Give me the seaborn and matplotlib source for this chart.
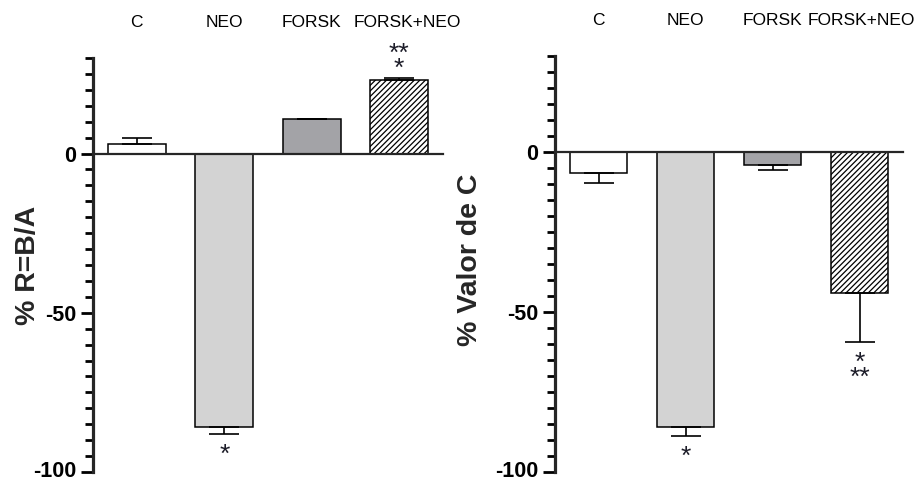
import matplotlib
matplotlib.use("Agg")
import matplotlib.pyplot as plt
import matplotlib.transforms as mtransforms
import seaborn as sns
import numpy as np

# ---- data ----
categories = ["C", "NEO", "FORSK", "FORSK+NEO"]
left_values = [3.0, -86.0, 11.0, 23.0]
left_sem = [2.0, 2.0, 0.0, 0.7]
right_values = [-6.5, -86.0, -4.0, -44.0]
right_sem = [3.2, 2.8, 1.6, 15.5]
left_ylabel = "% R=B/A"
right_ylabel = "% Valor de C"
left_stars = [("NEO", -94.5, "*"), ("FORSK+NEO", 29.0, "**\n*")]
right_stars = [("NEO", -95.2, "*"), ("FORSK+NEO", -68.2, "*\n**")]
bar_colors = ["#ffffff", "#d3d3d3", "#a3a3a7", "#ffffff"]
hatches = [None, None, None, "//////"]

sns.set_style("ticks")
plt.rcParams["font.family"] = ["Liberation Sans", "DejaVu Sans"]
plt.rcParams["axes.unicode_minus"] = False
plt.rcParams["hatch.linewidth"] = 0.9

fig = plt.figure(figsize=(9.18, 4.84), dpi=100)
ax_l = fig.add_axes([93 / 918, 1 - 472 / 484, 350 / 918, (472 - 58) / 484])
ax_r = fig.add_axes([555 / 918, 1 - 472 / 484, 348 / 918, (472 - 56) / 484])


def draw(ax, values, sem, ylabel, stars, label_xy, last_label_shift):
    sns.barplot(x=categories, y=values, hue=categories, palette=bar_colors,
                legend=False, ax=ax, width=0.66, edgecolor="black",
                linewidth=1.1, saturation=1)
    for p, h in zip(ax.patches, hatches):
        if h:
            p.set_hatch(h)
    pos = np.arange(len(categories))
    vals = np.array(values)
    s = np.array(sem)
    lower = np.where(vals < 0, s, 0)
    upper = np.where(vals >= 0, s, 0)
    ax.errorbar(pos, vals, yerr=[lower, upper], fmt="none", ecolor="black",
                elinewidth=1.2, capsize=10.5, capthick=1.2, zorder=1)
    for cat, y, txt in stars:
        ax.text(categories.index(cat), y, txt, ha="center", va="center",
                fontsize=19, color="#1c1c28", clip_on=False, linespacing=0.55)
    ax.set_xlim(-0.5, 3.5)
    ax.set_ylim(-100, 30)
    ax.set_yticks([-100, -50, 0])
    ax.set_yticklabels(["-100", "-50", "0"], fontsize=15.5, fontweight="bold")
    ax.set_yticks(np.arange(-100, 31, 5), minor=True)
    ax.tick_params(axis="y", which="major", length=9, width=2, pad=3, colors="black")
    ax.tick_params(axis="y", which="minor", length=5.5, width=2, colors="black")
    ax.xaxis.tick_top()
    ax.tick_params(axis="x", which="both", length=0, pad=20, labelsize=12.5,
                   colors="black")
    ax.set_xlabel("")
    ax.set_ylabel(ylabel, fontsize=20.5, fontweight="bold")
    ax.yaxis.set_label_coords(*label_xy)
    for sp in ["top", "right"]:
        ax.spines[sp].set_visible(False)
    ax.spines["left"].set_linewidth(2.3)
    ax.spines["bottom"].set_linewidth(1.6)
    ax.spines["bottom"].set_position(("data", 0))
    ax.set_facecolor("white")
    fig.canvas.draw()
    ylab = ax.get_yticklabels()[0]
    ylab.set_transform(ylab.get_transform() +
                       mtransforms.ScaledTranslation(0, 3 / 100, fig.dpi_scale_trans))
    xlab = ax.get_xticklabels()[3]
    xlab.set_transform(xlab.get_transform() +
                       mtransforms.ScaledTranslation(last_label_shift / 100, 0,
                                                     fig.dpi_scale_trans))


draw(ax_l, left_values, left_sem, left_ylabel, left_stars, (-0.149, 0.5), 8)
draw(ax_r, right_values, right_sem, right_ylabel, right_stars, (-0.207, 0.51), 2)

fig.savefig("out.png", dpi=100, facecolor="white")
